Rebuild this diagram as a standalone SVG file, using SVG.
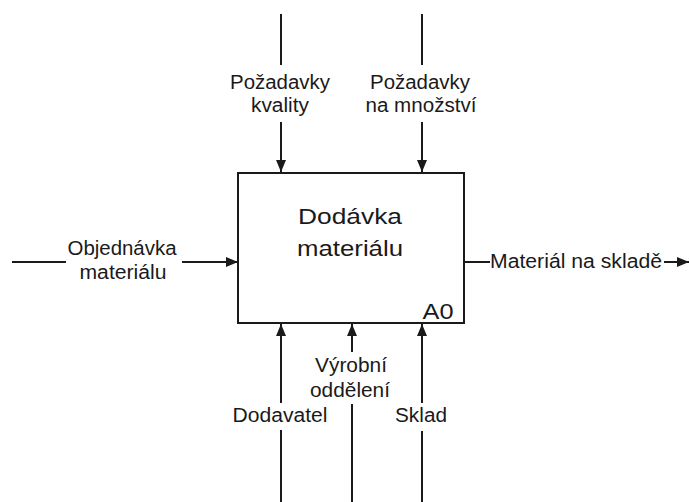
<svg xmlns="http://www.w3.org/2000/svg" width="690" height="502" viewBox="0 0 690 502">
  <style>
    .line { stroke: #1a1a1a; stroke-width: 2; fill: none; }
    .box { stroke: #1a1a1a; stroke-width: 2; fill: #ffffff; }
    text { font-family: "Liberation Sans", Arial, sans-serif; fill: #1a1a1a; }
    .lbl { font-size: 20px; text-anchor: middle; }
    .title { font-size: 22px; text-anchor: middle; }
  </style>
  <defs>
    <marker id="arrow" markerWidth="12" markerHeight="10" refX="12" refY="5" orient="auto" markerUnits="userSpaceOnUse">
      <path d="M0,0 L12,5 L0,10 Z" fill="#1a1a1a"/>
    </marker>
  </defs>
  <rect width="690" height="502" fill="#ffffff"/>

  <g id="connectors">
    <!-- controls (top) -->
    <line class="line" x1="281" y1="14" x2="281" y2="65"/>
    <line class="line" x1="281" y1="122" x2="281" y2="172" marker-end="url(#arrow)"/>
    <line class="line" x1="422" y1="14" x2="422" y2="65"/>
    <line class="line" x1="422" y1="122" x2="422" y2="172" marker-end="url(#arrow)"/>
    <!-- input (left) -->
    <line class="line" x1="12" y1="262" x2="66" y2="262"/>
    <line class="line" x1="182" y1="262" x2="238" y2="262" marker-end="url(#arrow)"/>
    <!-- output (right) -->
    <line class="line" x1="464" y1="262" x2="490" y2="262"/>
    <line class="line" x1="664" y1="262" x2="689" y2="262" marker-end="url(#arrow)"/>
    <!-- mechanisms (bottom) -->
    <line class="line" x1="281" y1="502" x2="281" y2="430"/>
    <line class="line" x1="281" y1="403" x2="281" y2="324" marker-end="url(#arrow)"/>
    <line class="line" x1="352" y1="502" x2="352" y2="404"/>
    <line class="line" x1="352" y1="352" x2="352" y2="324" marker-end="url(#arrow)"/>
    <line class="line" x1="422" y1="502" x2="422" y2="431"/>
    <line class="line" x1="422" y1="403" x2="422" y2="324" marker-end="url(#arrow)"/>
  </g>

  <g id="A0">
    <rect class="box" x="238" y="173" width="226" height="150"/>
    <text class="title" x="350" y="224" textLength="104" lengthAdjust="spacingAndGlyphs">Dodávka</text>
    <text class="title" x="350" y="256" textLength="106" lengthAdjust="spacingAndGlyphs">materiálu</text>
    <text class="title" x="438" y="319" textLength="31" lengthAdjust="spacingAndGlyphs">A0</text>
  </g>

  <g id="pozadavky-kvality">
    <text class="lbl" x="280" y="89" textLength="100" lengthAdjust="spacingAndGlyphs">Požadavky</text>
    <text class="lbl" x="280" y="112" textLength="58" lengthAdjust="spacingAndGlyphs">kvality</text>
  </g>
  <g id="pozadavky-mnozstvi">
    <text class="lbl" x="420" y="89" textLength="100" lengthAdjust="spacingAndGlyphs">Požadavky</text>
    <text class="lbl" x="421" y="112" textLength="111" lengthAdjust="spacingAndGlyphs">na množství</text>
  </g>
  <g id="objednavka">
    <text class="lbl" x="122" y="255" textLength="109" lengthAdjust="spacingAndGlyphs">Objednávka</text>
    <text class="lbl" x="123" y="279" textLength="87" lengthAdjust="spacingAndGlyphs">materiálu</text>
  </g>
  <g id="material-na-sklade">
    <text class="lbl" x="576" y="268" textLength="172" lengthAdjust="spacingAndGlyphs">Materiál na skladě</text>
  </g>
  <g id="dodavatel">
    <text class="lbl" x="280" y="422" textLength="95" lengthAdjust="spacingAndGlyphs">Dodavatel</text>
  </g>
  <g id="vyrobni-oddeleni">
    <text class="lbl" x="351" y="372" textLength="72" lengthAdjust="spacingAndGlyphs">Výrobní</text>
    <text class="lbl" x="350" y="397" textLength="80" lengthAdjust="spacingAndGlyphs">oddělení</text>
  </g>
  <g id="sklad">
    <text class="lbl" x="421" y="422" textLength="52" lengthAdjust="spacingAndGlyphs">Sklad</text>
  </g>
</svg>
